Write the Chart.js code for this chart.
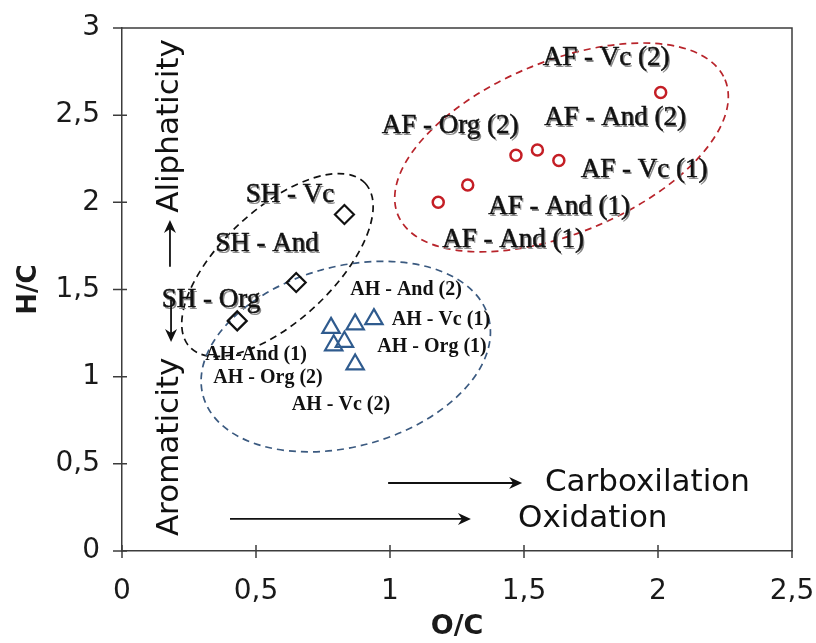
<!DOCTYPE html>
<html>
<head>
<meta charset="utf-8">
<script src="https://cdn.jsdelivr.net/npm/chart.js@4.4.0/dist/chart.umd.min.js"></script>
<style>
  html, body { margin: 0; padding: 0; background: #fff; }
  #wrap { width: 816px; height: 643px; }
</style>
</head>
<body>
<div id="wrap"><canvas id="chart" width="816" height="643"></canvas></div>
<script>
// O/C and H/C values
const afOC = [1.18, 1.29, 1.47, 1.55, 1.63, 2.01];
const afHC = [2.00, 2.10, 2.27, 2.30, 2.24, 2.63];
const shOC = [0.83, 0.65, 0.43];
const shHC = [1.93, 1.54, 1.32];
const ahOC = [0.78, 0.87, 0.94, 0.79, 0.83, 0.87];
const ahHC = [1.28, 1.30, 1.33, 1.18, 1.20, 1.07];

const xRange = [0, 2.5];
const yRange = [0, 3];
const tickStep = 0.5;

const axisColor = '#3c3c3c';

// annotations (data units, sizes in px)
const pointLabels = [
  { text: 'AF - Vc (2)', x: 1.806, y: 2.828, kind: 'big' },
  { text: 'AF - And (2)', x: 1.840, y: 2.484, kind: 'big' },
  { text: 'AF - Org (2)', x: 1.224, y: 2.438, kind: 'big' },
  { text: 'AF - Vc (1)', x: 1.948, y: 2.186, kind: 'big' },
  { text: 'AF - And (1)', x: 1.631, y: 1.973, kind: 'big' },
  { text: 'AF - And (1)', x: 1.459, y: 1.784, kind: 'big' },
  { text: 'SH - Vc', x: 0.627, y: 2.042, kind: 'big' },
  { text: 'SH - And', x: 0.541, y: 1.761, kind: 'big' },
  { text: 'SH - Org', x: 0.332, y: 1.440, kind: 'big' },
  { text: 'AH - And (2)', x: 1.060, y: 1.497, kind: 'small' },
  { text: 'AH - Vc (1)', x: 1.190, y: 1.325, kind: 'small' },
  { text: 'AH - Org (1)', x: 1.157, y: 1.170, kind: 'small' },
  { text: 'AH-And (1)', x: 0.500, y: 1.124, kind: 'small' },
  { text: 'AH - Org (2)', x: 0.545, y: 0.992, kind: 'small' },
  { text: 'AH - Vc (2)', x: 0.817, y: 0.837, kind: 'small' }
];

const groupEllipses = [
  { cx: 1.640, cy: 2.315, rx: 177, ry: 86, rot: -22.5, color: '#b8242b' },
  { cx: 0.580, cy: 1.640, rx: 120, ry: 56, rot: -43, color: '#111111' },
  { cx: 0.835, cy: 1.115, rx: 148, ry: 90, rot: -15.4, color: '#3b5a80' }
];

const arrows = [
  { x1: 0.179, y1: 1.630, x2: 0.179, y2: 1.899 },
  { x1: 0.183, y1: 1.440, x2: 0.183, y2: 1.199 },
  { x1: 0.993, y1: 0.390, x2: 1.493, y2: 0.390 },
  { x1: 0.403, y1: 0.184, x2: 1.302, y2: 0.184 }
];

const sideTexts = [
  { text: 'Aliphaticity', x: 0.179, y: 2.438, rot: -90, align: 'center' },
  { text: 'Aromaticity', x: 0.179, y: 0.597, rot: -90, align: 'center' },
  { text: 'Carboxilation', x: 1.578, y: 0.390, rot: 0, align: 'left' },
  { text: 'Oxidation', x: 1.478, y: 0.184, rot: 0, align: 'left' }
];

const fmt = (v) => String(v).replace('.', ',');

const decor = {
  id: 'decor',
  beforeDatasetsDraw(chart) {
    const { ctx, chartArea: a, scales: { x, y } } = chart;
    ctx.save();
    ctx.strokeStyle = axisColor;
    ctx.lineWidth = 1.5;
    ctx.beginPath();
    ctx.moveTo(a.left, a.top);
    ctx.lineTo(a.right, a.top);
    ctx.lineTo(a.right, a.bottom);
    // crossing tick marks
    x.ticks.forEach(t => {
      const px = x.getPixelForValue(t.value);
      ctx.moveTo(px, a.bottom - 6);
      ctx.lineTo(px, a.bottom + 7);
    });
    y.ticks.forEach(t => {
      const py = y.getPixelForValue(t.value);
      ctx.moveTo(a.left - 9, py);
      ctx.lineTo(a.left + 5, py);
    });
    ctx.stroke();

    ctx.lineWidth = 1.7;
    ctx.setLineDash([7, 5]);
    groupEllipses.forEach(e => {
      ctx.strokeStyle = e.color;
      ctx.beginPath();
      ctx.ellipse(x.getPixelForValue(e.cx), y.getPixelForValue(e.cy), e.rx, e.ry,
        e.rot * Math.PI / 180, 0, Math.PI * 2);
      ctx.stroke();
    });
    ctx.restore();
  },
  afterDatasetsDraw(chart) {
    const { ctx, scales: { x, y } } = chart;
    ctx.save();
    ctx.textAlign = 'center';
    ctx.textBaseline = 'middle';
    pointLabels.forEach(l => {
      const px = x.getPixelForValue(l.x), py = y.getPixelForValue(l.y);
      if (l.kind === 'big') {
        ctx.font = '27px "Liberation Serif"';
        ctx.fillStyle = '#8a8a8a';
        ctx.fillText(l.text, px + 1.5, py + 1.5);
        ctx.fillStyle = '#111';
        ctx.fillText(l.text, px, py);
        ctx.strokeStyle = '#111';
        ctx.lineWidth = 0.5;
        ctx.strokeText(l.text, px, py);
      } else {
        ctx.font = 'bold 20px "Liberation Serif"';
        ctx.fillStyle = '#111';
        ctx.fillText(l.text, px, py);
      }
    });

    ctx.strokeStyle = '#111';
    ctx.fillStyle = '#111';
    ctx.lineWidth = 1.8;
    arrows.forEach(r => {
      const x1 = x.getPixelForValue(r.x1), y1 = y.getPixelForValue(r.y1);
      const x2 = x.getPixelForValue(r.x2), y2 = y.getPixelForValue(r.y2);
      const ang = Math.atan2(y2 - y1, x2 - x1);
      ctx.beginPath();
      ctx.moveTo(x1, y1);
      ctx.lineTo(x2 - 8 * Math.cos(ang), y2 - 8 * Math.sin(ang));
      ctx.stroke();
      ctx.beginPath();
      ctx.moveTo(x2, y2);
      ctx.lineTo(x2 - 13 * Math.cos(ang) + 6 * Math.sin(ang), y2 - 13 * Math.sin(ang) - 6 * Math.cos(ang));
      ctx.lineTo(x2 - 9 * Math.cos(ang), y2 - 9 * Math.sin(ang));
      ctx.lineTo(x2 - 13 * Math.cos(ang) - 6 * Math.sin(ang), y2 - 13 * Math.sin(ang) + 6 * Math.cos(ang));
      ctx.closePath();
      ctx.fill();
    });

    ctx.font = '31px "DejaVu Sans"';
    ctx.fillStyle = '#111';
    sideTexts.forEach(t => {
      ctx.save();
      ctx.translate(x.getPixelForValue(t.x), y.getPixelForValue(t.y));
      ctx.rotate(t.rot * Math.PI / 180);
      ctx.textAlign = t.align;
      ctx.fillText(t.text, 0, 0);
      ctx.restore();
    });
    ctx.restore();
  }
};

const toPoints = (xs, ys) => xs.map((v, i) => ({ x: v, y: ys[i] }));

new Chart(document.getElementById('chart'), {
  type: 'scatter',
  data: {
    datasets: [
      {
        label: 'AF',
        data: toPoints(afOC, afHC),
        pointStyle: 'circle',
        pointRadius: 5.5,
        borderWidth: 2.5,
        borderColor: '#c41e25',
        backgroundColor: 'rgba(255,255,255,0)'
      },
      {
        label: 'SH',
        data: toPoints(shOC, shHC),
        pointStyle: 'rectRot',
        pointRadius: 9.5,
        borderWidth: 2.2,
        borderColor: '#111',
        backgroundColor: 'rgba(255,255,255,0)'
      },
      {
        label: 'AH',
        data: toPoints(ahOC, ahHC),
        pointStyle: 'triangle',
        pointRadius: 10,
        borderWidth: 2.2,
        borderColor: '#2f5b8e',
        backgroundColor: 'rgba(255,255,255,0)'
      }
    ]
  },
  options: {
    responsive: false,
    animation: false,
    layout: { padding: { top: 28, right: 24, left: 0, bottom: 0 } },
    plugins: {
      legend: { display: false },
      tooltip: { enabled: false }
    },
    scales: {
      x: {
        type: 'linear',
        min: xRange[0],
        max: xRange[1],
        afterFit: (s) => { s.height = 92; s.paddingLeft = 0; s.paddingRight = 0; },
        grid: { display: false, drawTicks: false },
        border: { display: true, color: axisColor, width: 1.5 },
        ticks: {
          stepSize: tickStep,
          padding: 24,
          color: '#1a1a1a',
          font: { family: 'DejaVu Sans', size: 28 },
          callback: fmt
        },
        title: {
          display: true,
          text: 'O/C',
          color: '#1a1a1a',
          font: { family: 'DejaVu Sans', size: 27, weight: 'bold' },
          padding: 0
        }
      },
      y: {
        type: 'linear',
        min: yRange[0],
        max: yRange[1],
        afterFit: (s) => { s.width = 122; s.paddingTop = 0; s.paddingBottom = 0; },
        grid: { display: false, drawTicks: false },
        border: { display: true, color: axisColor, width: 1.5 },
        ticks: {
          stepSize: tickStep,
          padding: 22,
          color: '#1a1a1a',
          font: { family: 'DejaVu Sans', size: 28 },
          callback: fmt
        },
        title: {
          display: true,
          text: 'H/C',
          color: '#1a1a1a',
          font: { family: 'DejaVu Sans', size: 26, weight: 'bold' },
          padding: { top: 14, bottom: 0 }
        }
      }
    }
  },
  plugins: [decor]
});
</script>
</body>
</html>
